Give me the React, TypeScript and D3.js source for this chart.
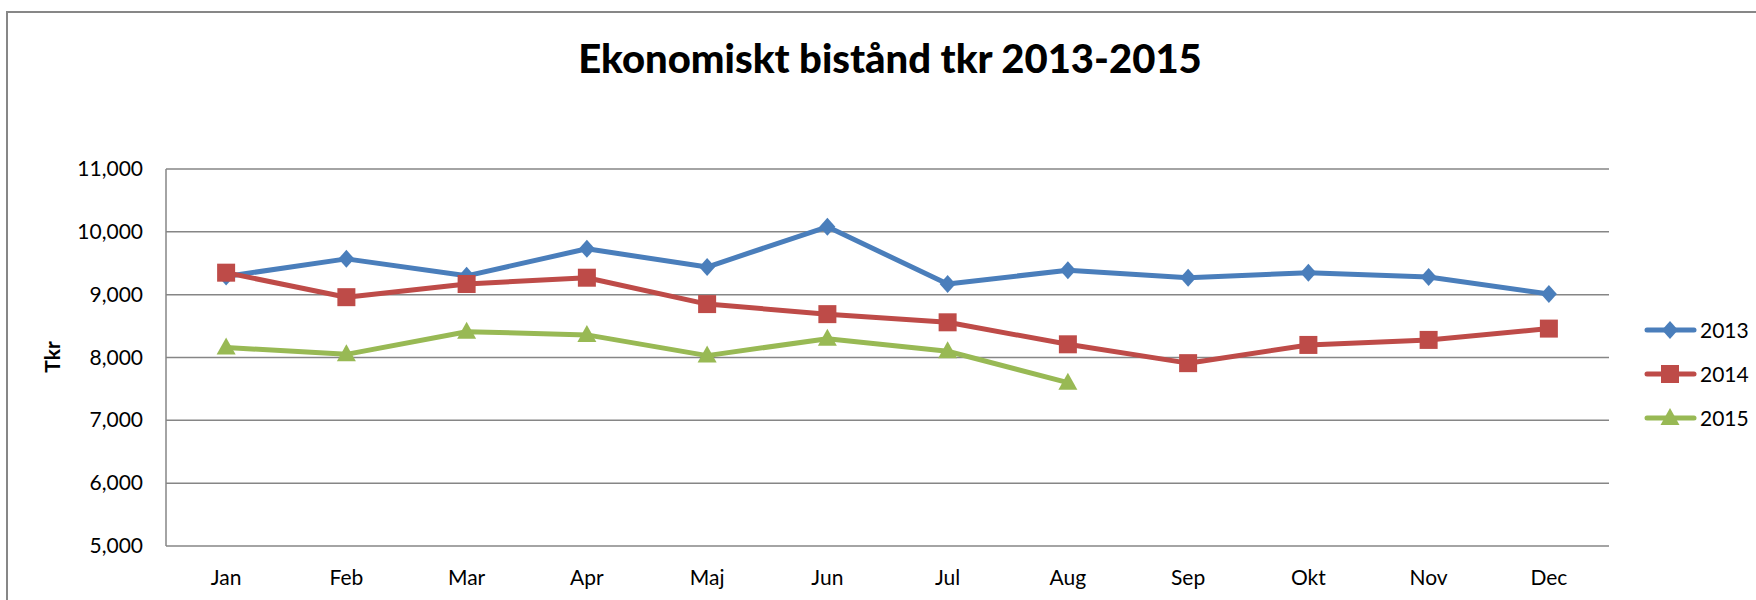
import React from 'react';
import * as d3 from 'd3';

const months = ['Jan', 'Feb', 'Mar', 'Apr', 'Maj', 'Jun', 'Jul', 'Aug', 'Sep', 'Okt', 'Nov', 'Dec'];
const values2013 = [9290, 9570, 9300, 9730, 9440, 10080, 9170, 9390, 9270, 9350, 9280, 9010];
const values2014 = [9350, 8960, 9170, 9270, 8850, 8690, 8560, 8210, 7910, 8200, 8280, 8460];
const values2015 = [8160, 8050, 8410, 8360, 8030, 8300, 8100, 7600];
const yTicks = [5000, 6000, 7000, 8000, 9000, 10000, 11000];
const seriesNames = ['2013', '2014', '2015'];
const seriesColors = ['#4a7ebb', '#be4b48', '#98b954'];

const W = 1756;
const H = 600;
const plot = { left: 166, right: 1609, top: 169, bottom: 546 };
const font = 'Lato, "Open Sans", sans-serif';

function Marker({ kind, x, y, color }: { kind: number; x: number; y: number; color: string }) {
  if (kind === 0) {
    return <path d={`M${x},${y - 9}L${x + 8},${y}L${x},${y + 9}L${x - 8},${y}Z`} fill={color} />;
  }
  if (kind === 1) {
    return <rect x={x - 9} y={y - 9} width={18} height={18} fill={color} />;
  }
  return <path d={`M${x},${y - 10}L${x + 9.5},${y + 7}L${x - 9.5},${y + 7}Z`} fill={color} />;
}

export default function App() {
  const x = d3.scaleBand().domain(months).range([plot.left, plot.right]);
  const y = d3.scaleLinear().domain([5000, 11000]).range([plot.bottom, plot.top]);
  const cx = (m: string) => (x(m) as number) + x.bandwidth() / 2;
  const line = d3.line<number>().x((_, i) => cx(months[i])).y(d => y(d));
  const series = [values2013, values2014, values2015];
  const legendY = [330, 374, 418];

  return (
    <svg width={W} height={H} style={{ position: 'absolute', left: 0, top: 0, background: '#fff' }}>
      <rect x={7} y={12} width={W + 20} height={H + 20} fill="#fff" stroke="#878787" strokeWidth={2} />
      <text x={890} y={73} textAnchor="middle" fontFamily={font} fontWeight={900} fontSize={40} fill="#000">
        Ekonomiskt bistånd tkr 2013-2015
      </text>

      {yTicks.map(t => (
        <g key={t}>
          <line x1={plot.left} x2={plot.right} y1={y(t)} y2={y(t)} stroke="#868686" strokeWidth={1.5} />
          <text x={143} y={y(t) + 7} textAnchor="end" fontFamily={font} fontSize={21} fill="#000">
            {d3.format(',')(t)}
          </text>
        </g>
      ))}
      <line x1={plot.left} x2={plot.left} y1={plot.top} y2={plot.bottom} stroke="#868686" strokeWidth={1.5} />

      {months.map(m => (
        <text key={m} x={cx(m)} y={585} textAnchor="middle" fontFamily={font} fontSize={21} fill="#000">
          {m}
        </text>
      ))}

      <text transform={`translate(60,357) rotate(-90)`} textAnchor="middle" fontFamily={font} fontWeight="bold" fontSize={21} fill="#000">
        Tkr
      </text>

      {series.map((vals, si) => (
        <g key={si}>
          <path d={line(vals) || ''} fill="none" stroke={seriesColors[si]} strokeWidth={5} strokeLinejoin="round" />
          {vals.map((v, i) => (
            <Marker key={i} kind={si} x={cx(months[i])} y={y(v)} color={seriesColors[si]} />
          ))}
        </g>
      ))}

      {seriesNames.map((n, si) => (
        <g key={n}>
          <line x1={1647} x2={1694} y1={legendY[si]} y2={legendY[si]} stroke={seriesColors[si]} strokeWidth={5} strokeLinecap="round" />
          <Marker kind={si} x={1670} y={legendY[si]} color={seriesColors[si]} />
          <text x={1700} y={legendY[si] + 8} fontFamily={font} fontSize={21} fill="#000">
            {n}
          </text>
        </g>
      ))}
    </svg>
  );
}
